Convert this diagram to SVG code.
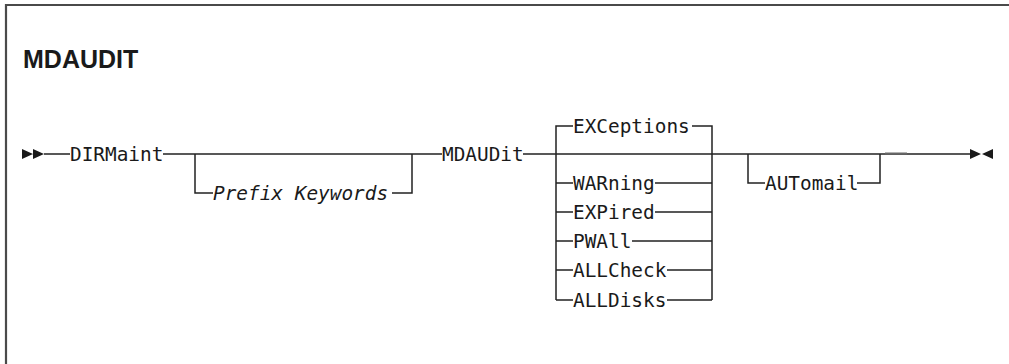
<svg xmlns="http://www.w3.org/2000/svg" width="1009" height="364" viewBox="0 0 1009 364">
<style>
.frame{fill:none;stroke:#4a4a4a;stroke-width:2.2}
.ln{fill:none;stroke:#222;stroke-width:1.5}
.kw{font-family:"DejaVu Sans Mono","Liberation Mono",monospace;font-size:19.4px;fill:#1a1a1a}
.var{font-family:"DejaVu Sans Mono","Liberation Mono",monospace;font-size:19.4px;font-style:italic;fill:#1a1a1a}
.title{font-family:"Liberation Sans",Arial,sans-serif;font-size:25px;font-weight:bold;fill:#1a1a1a}
.arr{fill:#1a1a1a}
</style>
<rect width="1009" height="364" fill="#fff"/>
<path class="frame" d="M6,364 V5 H1009"/>
<text class="title" x="23" y="68">MDAUDIT</text>
<g id="connectors">
<path class="ln" d="M44,154 H70 M163,154 H442 M523,154 H970"/>
<path class="ln" d="M195,154 V193 H213 M392,193 H412 V154"/>
<path class="ln" d="M556,154 V126 H573 M692,126 H712 V154"/>
<path class="ln" d="M556,154 V300 M712,154 V300"/>
<path class="ln" d="M556,183 H573 M655,183 H712"/>
<path class="ln" d="M556,212 H573 M655,212 H712"/>
<path class="ln" d="M556,241 H573 M632,241 H712"/>
<path class="ln" d="M556,270 H573 M667,270 H712"/>
<path class="ln" d="M556,300 H573 M667,300 H712"/>
<path class="ln" d="M748,154 V183 H765 M857,183 H880 V154"/>
<path d="M885,153.5 H907" stroke="#666" stroke-width="2" fill="none"/>
</g>
<g id="start"><path class="arr" d="M22,149 L33,154 L22,159 Z M33,149 L44,154 L33,159 Z"/></g>
<g id="end"><path class="arr" d="M970,149 L981,154 L970,159 Z M993,149 L982,154 L993,159 Z"/></g>
<g id="dirmaint"><text class="kw" x="70" y="160.5">DIRMaint</text></g>
<g id="prefix"><text class="var" x="213" y="199.5">Prefix Keywords</text></g>
<g id="mdaudit"><text class="kw" x="442" y="160.5">MDAUDit</text></g>
<g id="exceptions"><text class="kw" x="573" y="132.5">EXCeptions</text></g>
<g id="warning"><text class="kw" x="573" y="189.5">WARning</text></g>
<g id="expired"><text class="kw" x="573" y="218.5">EXPired</text></g>
<g id="pwall"><text class="kw" x="573" y="247.5">PWAll</text></g>
<g id="allcheck"><text class="kw" x="573" y="276.5">ALLCheck</text></g>
<g id="alldisks"><text class="kw" x="573" y="306.5">ALLDisks</text></g>
<g id="automail"><text class="kw" x="765" y="189.5">AUTomail</text></g>
</svg>
